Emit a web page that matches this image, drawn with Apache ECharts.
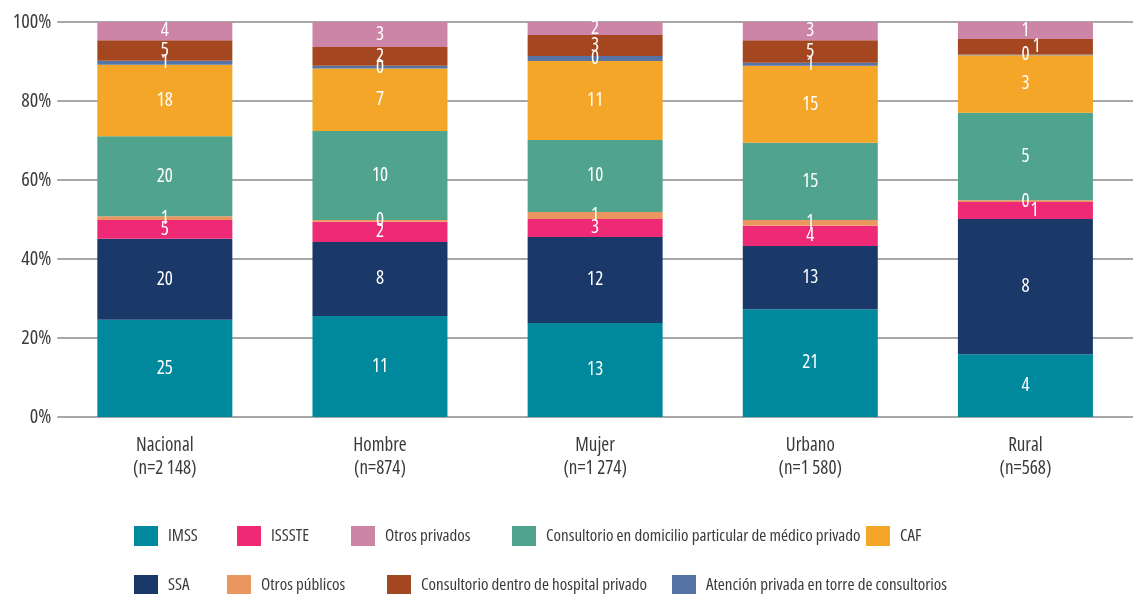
<!DOCTYPE html>
<html>
<head>
<meta charset="utf-8">
<script src="https://cdn.jsdelivr.net/npm/echarts@6/dist/echarts.min.js"></script>
<style>
html,body{margin:0;padding:0;background:#fff;}
#chart{width:1133px;height:594px;}
</style>
</head>
<body>
<div id="chart"></div>
<script>
// Categories
var categories = ['Nacional\n(n=2 148)', 'Hombre\n(n=874)', 'Mujer\n(n=1 274)', 'Urbano\n(n=1 580)', 'Rural\n(n=568)'];
var yTicks = [0, 20, 40, 60, 80, 100];

// Series names (stack order bottom -> top)
var seriesNames = ['IMSS', 'SSA', 'ISSSTE', 'Otros públicos',
  'Consultorio en domicilio particular de médico privado', 'CAF',
  'Atención privada en torre de consultorios', 'Consultorio dentro de hospital privado', 'Otros privados'];

// Bar segment shares (% of each bar)
var imss       = [24.6, 25.6, 23.8, 27.3, 15.9];
var ssa        = [20.5, 18.7, 21.8, 16.0, 34.2];
var issste     = [4.8, 5.1, 4.5, 5.1, 4.3];
var otrosPub   = [0.9, 0.5, 1.8, 1.5, 0.5];
var domicilio  = [20.3, 22.5, 18.2, 19.5, 22.1];
var caf        = [18.1, 15.8, 20.0, 19.5, 14.6];
var torre      = [1.0, 0.7, 1.3, 0.8, 0.2];
var hospital   = [5.2, 4.8, 5.3, 5.7, 3.9];
var otrosPriv  = [4.6, 6.3, 3.3, 4.6, 4.3];

// Printed labels on the segments
var imssLbl      = [25, 11, 13, 21, 4];
var ssaLbl       = [20, 8, 12, 13, 8];
var issteLbl     = [5, 2, 3, 4, 1];
var otrosPubLbl  = [1, 0, 1, 1, 0];
var domicilioLbl = [20, 10, 10, 15, 5];
var cafLbl       = [18, 7, 11, 15, 3];
var torreLbl     = [1, 0, 0, 1, 0];
var hospitalLbl  = [5, 2, 3, 5, 1];
var otrosPrivLbl = [4, 3, 2, 3, 1];

var values = [imss, ssa, issste, otrosPub, domicilio, caf, torre, hospital, otrosPriv];
var labels = [imssLbl, ssaLbl, issteLbl, otrosPubLbl, domicilioLbl, cafLbl, torreLbl, hospitalLbl, otrosPrivLbl];
var colors = ['#00899C', '#1B3968', '#EE2A76', '#EC965F', '#50A38C', '#F4A629', '#5673A6', '#A44720', '#CC85A6'];

var FONT = "'Open Sans', sans-serif";
var STRETCH = 'condensed';   // goes into the canvas font shorthand
var TXT = '#3a3a3a';

// manual label nudges (series index, category index) -> offset
var nudges = { '2_4': [9, 0], '7_4': [11, 0] };

var series = values.map(function (vals, si) {
  return {
    name: seriesNames[si],
    type: 'bar',
    stack: 'total',
    barWidth: 135,
    itemStyle: { color: colors[si] },
    label: {
      show: true,
      position: 'inside',
      color: '#ffffff',
      fontFamily: FONT,
      fontStyle: STRETCH,
      fontSize: 19,
      formatter: function (p) { return labels[si][p.dataIndex]; }
    },
    data: vals.map(function (v, ci) {
      var d = { value: v };
      var k = si + '_' + ci;
      if (nudges[k]) d.label = { offset: nudges[k] };
      return d;
    })
  };
});

var legendLayout = [
  ['IMSS', 134, 526], ['ISSSTE', 237, 526], ['Otros privados', 351, 526],
  ['Consultorio en domicilio particular de médico privado', 512, 526], ['CAF', 866, 526],
  ['SSA', 134, 575], ['Otros públicos', 227, 575],
  ['Consultorio dentro de hospital privado', 387, 575],
  ['Atención privada en torre de consultorios', 672, 575]
];
var legends = legendLayout.map(function (l) {
  return {
    data: [l[0]],
    left: l[1],
    top: l[2],
    padding: 0,
    itemWidth: 24,
    itemHeight: 20,
    itemGap: 0,
    selectedMode: false,
    icon: 'rect',
    textStyle: { fontFamily: FONT, fontStyle: STRETCH, fontSize: 17, color: TXT, padding: [0, 0, 0, 5] }
  };
});

var chart = echarts.init(document.getElementById('chart'), null, { renderer: 'canvas' });
chart.setOption({
  animation: false,
  backgroundColor: '#ffffff',
  legend: legends,
  grid: { left: 57.25, right: -16.75, top: 22, bottom: 177, containLabel: false },
  xAxis: {
    type: 'category',
    data: categories,
    axisLine: { show: false },
    axisTick: { show: false },
    axisLabel: { fontFamily: FONT, fontStyle: STRETCH, fontSize: 19, color: TXT, lineHeight: 23, margin: 17 }
  },
  yAxis: {
    type: 'value',
    min: yTicks[0],
    max: yTicks[yTicks.length - 1],
    interval: 20,
    axisLine: { show: false },
    axisTick: { show: false },
    splitLine: { lineStyle: { color: '#8a8a8a', width: 1.5 } },
    axisLabel: { fontFamily: FONT, fontStyle: STRETCH, fontSize: 20, color: TXT, margin: 6, formatter: '{value}%' }
  },
  series: series
});
</script>
</body>
</html>
